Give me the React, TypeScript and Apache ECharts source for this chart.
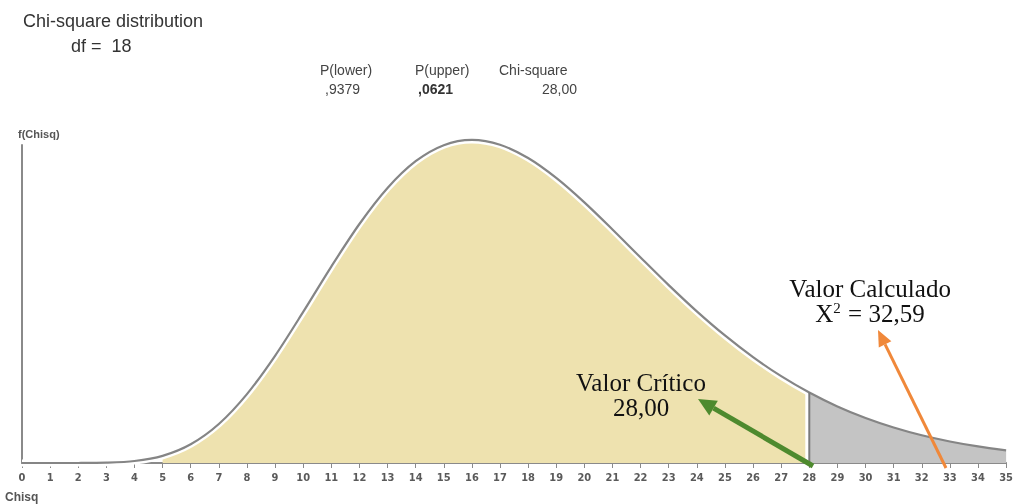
import React, { useEffect, useRef } from "react";
import * as echarts from "echarts";

// Chi-square density (df = 18), at each integer of Chisq
const chisq = [0, 1, 2, 3, 4, 5, 6, 7, 8, 9, 10, 11, 12, 13, 14, 15, 16, 17, 18, 19, 20, 21, 22, 23, 24, 25, 26, 27, 28, 29, 30, 31, 32, 33, 34, 35];
const density = [0, 0.00000003, 0.0000046, 0.000071, 0.00043, 0.00155, 0.00405, 0.00843, 0.01489, 0.02316, 0.03264, 0.04244, 0.05163, 0.05941, 0.06519, 0.06866, 0.06979, 0.06876, 0.06588, 0.06158, 0.0563, 0.05045, 0.0444, 0.03843, 0.03276, 0.02755, 0.02287, 0.01876, 0.01522, 0.01222, 0.00972, 0.00767, 0.00599, 0.00465, 0.00358, 0.00274];
const critical = 28;
const lowerStart = 5;
const xTicks = { min: 0, max: 35, interval: 1 };
const yMax = 0.0687;

const titleTexts = ["Chi-square distribution", "df =  18"];
const statHeaders = ["P(lower)", "P(upper)", "Chi-square"];
const statValues = [",9379", ",0621", "28,00"];

export default function App() {
  const ref = useRef<HTMLDivElement>(null);
  useEffect(() => {
    if (!ref.current) return;
    const chart = echarts.init(ref.current, null, { renderer: "svg" });
    const all = chisq.map((x, i) => [x, density[i]]);
    const lower = all.filter((p) => p[0] >= lowerStart && p[0] <= critical);
    const upper = all.filter((p) => p[0] >= critical);
    const critIdx = chisq.indexOf(critical);
    const vline = [[critical, 0], [critical, density[critIdx]]];
    const sans = "'Liberation Sans', Arial, sans-serif";
    const serif = "'Liberation Serif', 'Times New Roman', serif";

    const greenTip = [698, 399];
    const greenTail = [813, 466];
    const orangeTip = [878, 330];
    const orangeTail = [946, 468];
    const arrowHead = (tip: number[], tail: number[], len: number, half: number) => {
      const dx = tip[0] - tail[0];
      const dy = tip[1] - tail[1];
      const L = Math.hypot(dx, dy);
      const ux = dx / L, uy = dy / L;
      const bx = tip[0] - ux * len, by = tip[1] - uy * len;
      const px = -uy, py = ux;
      return {
        base: [bx, by],
        pts: [tip, [bx + px * half, by + py * half], [bx - px * half, by - py * half]],
      };
    };
    const gh = arrowHead(greenTip, greenTail, 18, 8.5);
    const oh = arrowHead(orangeTip, orangeTail, 16, 7);
    const green = "#4E8A2E";
    const orange = "#F0883A";
    const txt = (x: number, y: number, text: string, font: string, fill: string, align = "left", extra: any = {}) => ({
      type: "text", x, y, z: 100,
      style: { text, font, fill, align, verticalAlign: "middle", ...extra },
    });

    chart.setOption({
      animation: false,
      grid: { left: 22, right: 6, top: 145, bottom: 41 },
      xAxis: {
        type: "value",
        min: xTicks.min,
        max: xTicks.max,
        interval: xTicks.interval,
        axisLine: { show: true, onZero: false, lineStyle: { color: "#8a8a8a", width: 2 } },
        axisTick: { show: true, length: 5, lineStyle: { color: "#8a8a8a", width: 1 } },
        axisLabel: { color: "#5a5a5a", fontSize: 11, fontWeight: "bold", fontFamily: "'DejaVu Sans Condensed', 'DejaVu Sans', sans-serif", margin: 9, showMinLabel: true, showMaxLabel: true },
        splitLine: { show: false },
      },
      yAxis: {
        type: "value",
        min: 0,
        max: yMax,
        axisLine: { show: true, lineStyle: { color: "#8a8a8a", width: 2 } },
        axisTick: { show: false },
        axisLabel: { show: false },
        splitLine: { show: false },
      },
      series: [
        {
          type: "line", data: lower, smooth: 0.3, symbol: "none", clip: false,
          lineStyle: { width: 0 }, areaStyle: { color: "#EEE2AF", opacity: 1 }, z: 1,
        },
        {
          type: "line", data: all, smooth: 0.3, symbol: "none", clip: false,
          lineStyle: { width: 7, color: "#ffffff" }, z: 2,
        },
        {
          type: "line", data: vline, symbol: "none", clip: false,
          lineStyle: { width: 8, color: "#ffffff" }, z: 2,
        },
        {
          type: "line", data: upper, smooth: 0.3, symbol: "none", clip: false,
          lineStyle: { width: 0 }, areaStyle: { color: "#C4C4C4", opacity: 1 }, z: 3,
        },
        {
          type: "line", data: all, smooth: 0.3, symbol: "none", clip: false,
          lineStyle: { width: 2.2, color: "#858585" }, z: 4,
        },
        {
          type: "line", data: vline, symbol: "none", clip: false,
          lineStyle: { width: 2, color: "#7a7a7a" }, z: 4,
        },
      ],
      graphic: [
        txt(23, 21, titleTexts[0], `18px ${sans}`, "#333"),
        txt(71, 46, titleTexts[1], `18px ${sans}`, "#333"),
        txt(320, 70, statHeaders[0], `14px ${sans}`, "#444"),
        txt(415, 70, statHeaders[1], `14px ${sans}`, "#444"),
        txt(499, 70, statHeaders[2], `14px ${sans}`, "#444"),
        txt(325, 89, statValues[0], `14px ${sans}`, "#444"),
        txt(418, 89, statValues[1], `bold 14px ${sans}`, "#333"),
        txt(577, 89, statValues[2], `14px ${sans}`, "#444", "right"),
        txt(18, 134, "f(Chisq)", `bold 11px ${sans}`, "#555"),
        txt(5, 497, "Chisq", `bold 12px ${sans}`, "#555"),
        txt(641, 382, "Valor Crítico", `25px ${serif}`, "#111", "center"),
        txt(641, 407, "28,00", `25px ${serif}`, "#111", "center"),
        txt(870, 288, "Valor Calculado", `25px ${serif}`, "#111", "center"),
        txt(870, 313, "X{sup|2} = 32,59", `25px ${serif}`, "#111", "center", {
          rich: { sup: { fontSize: 15, fontFamily: "'Liberation Serif', serif", verticalAlign: "top", padding: [0, 1, 9, 0], fill: "#111" } },
        }),
        { type: "line", z: 110, shape: { x1: greenTail[0], y1: greenTail[1], x2: gh.base[0], y2: gh.base[1] }, style: { stroke: green, lineWidth: 5 } },
        { type: "polygon", z: 110, shape: { points: gh.pts }, style: { fill: green } },
        { type: "line", z: 110, shape: { x1: orangeTail[0], y1: orangeTail[1], x2: oh.base[0], y2: oh.base[1] }, style: { stroke: orange, lineWidth: 3 } },
        { type: "polygon", z: 110, shape: { points: oh.pts }, style: { fill: orange } },
      ],
    });
    return () => chart.dispose();
  }, []);
  return <div ref={ref} style={{ position: "fixed", left: 0, top: 0, width: 1016, height: 504 }} />;
}
